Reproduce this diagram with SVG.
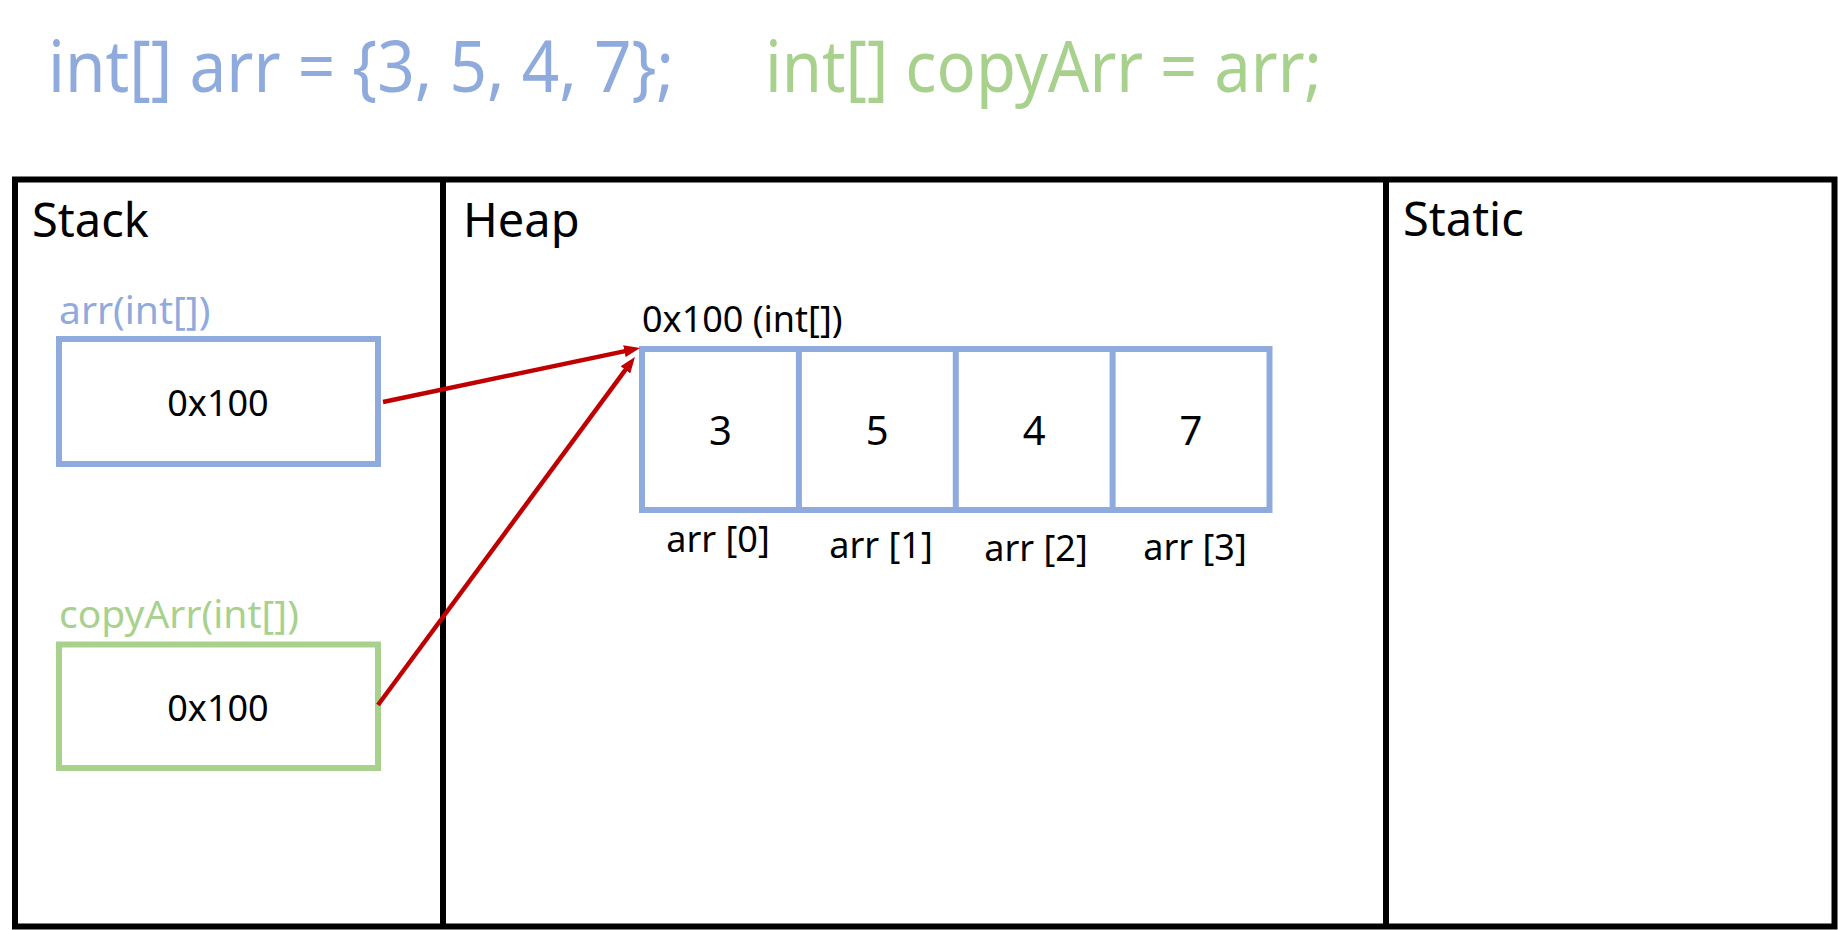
<svg xmlns="http://www.w3.org/2000/svg" width="1838" height="930" viewBox="0 0 1838 930">
<style>
  text { font-family: "Noto Sans", "Open Sans", sans-serif; }
  .blue { fill: #8FAADC; }
  .green { fill: #A9D18E; }
  .blk { fill: #000000; }
  .frame { fill: none; stroke: #000000; stroke-width: 6; }
  .bbox { fill: #FFFFFF; stroke: #8FAADC; stroke-width: 6; }
  .gbox { fill: #FFFFFF; stroke: #A9D18E; stroke-width: 6; }
  .conn { fill: none; stroke: #C00000; stroke-width: 4.5; }
  .area { font-size: 47px; }
  .var { font-size: 39px; }
  .val { font-size: 36px; }
  .num { font-size: 40px; }
  .mid { text-anchor: middle; }
</style>
<defs>
  <marker id="arrow" markerUnits="userSpaceOnUse" markerWidth="16" markerHeight="12" viewBox="0 0 16 12" refX="8" refY="6" orient="auto">
    <path d="M0,0 L16,6 L0,12 z" fill="#C00000"/>
  </marker>
</defs>
<rect width="1838" height="930" fill="#FFFFFF"/>

<g id="title">
  <text class="blue" x="48" y="92" font-size="71" textLength="626" lengthAdjust="spacingAndGlyphs">int[] arr = {3, 5, 4, 7};</text>
  <text class="green" x="765" y="92" font-size="71" textLength="557" lengthAdjust="spacingAndGlyphs">int[] copyArr = arr;</text>
</g>

<g id="memory-frame">
  <rect class="frame" x="15" y="179.5" width="1819.5" height="747"/>
  <line class="frame" x1="443" y1="179.5" x2="443" y2="926.5"/>
  <line class="frame" x1="1386" y1="179.5" x2="1386" y2="926.5"/>
</g>

<g id="stack">
  <text class="blk area" x="32" y="237">Stack</text>
</g>
<g id="heap">
  <text class="blk area" x="463" y="237">Heap</text>
</g>
<g id="static">
  <text class="blk area" x="1403" y="236">Static</text>
</g>

<g id="arr-var">
  <text class="blue var" x="59" y="324">arr(int[])</text>
  <rect class="bbox" x="59" y="339" width="319" height="125"/>
  <text class="blk val mid" x="218" y="416">0x100</text>
</g>

<g id="copyArr-var">
  <text class="green var" x="59" y="628">copyArr(int[])</text>
  <rect class="gbox" x="59" y="644.5" width="319" height="123.5"/>
  <text class="blk val mid" x="218" y="721">0x100</text>
</g>

<g id="heap-array">
  <text class="blk val" x="642" y="332">0x100 (int[])</text>
  <rect class="bbox" x="642" y="349" width="627.5" height="161"/>
  <line class="bbox" x1="798.9" y1="349" x2="798.9" y2="510"/>
  <line class="bbox" x1="955.8" y1="349" x2="955.8" y2="510"/>
  <line class="bbox" x1="1112.6" y1="349" x2="1112.6" y2="510"/>
  <text class="blk num mid" x="720.4" y="445">3</text>
  <text class="blk num mid" x="877.3" y="445">5</text>
  <text class="blk num mid" x="1034.2" y="445">4</text>
  <text class="blk num mid" x="1191" y="445">7</text>
  <text class="blk val mid" x="718" y="552">arr [0]</text>
  <text class="blk val mid" x="881" y="558">arr [1]</text>
  <text class="blk val mid" x="1036" y="561">arr [2]</text>
  <text class="blk val mid" x="1195" y="560">arr [3]</text>
</g>

<g id="connectors">
  <line class="conn" x1="383" y1="402" x2="632.2" y2="349.6" marker-end="url(#arrow)"/>
  <line class="conn" x1="378" y1="705" x2="630.2" y2="363.4" marker-end="url(#arrow)"/>
</g>
</svg>
